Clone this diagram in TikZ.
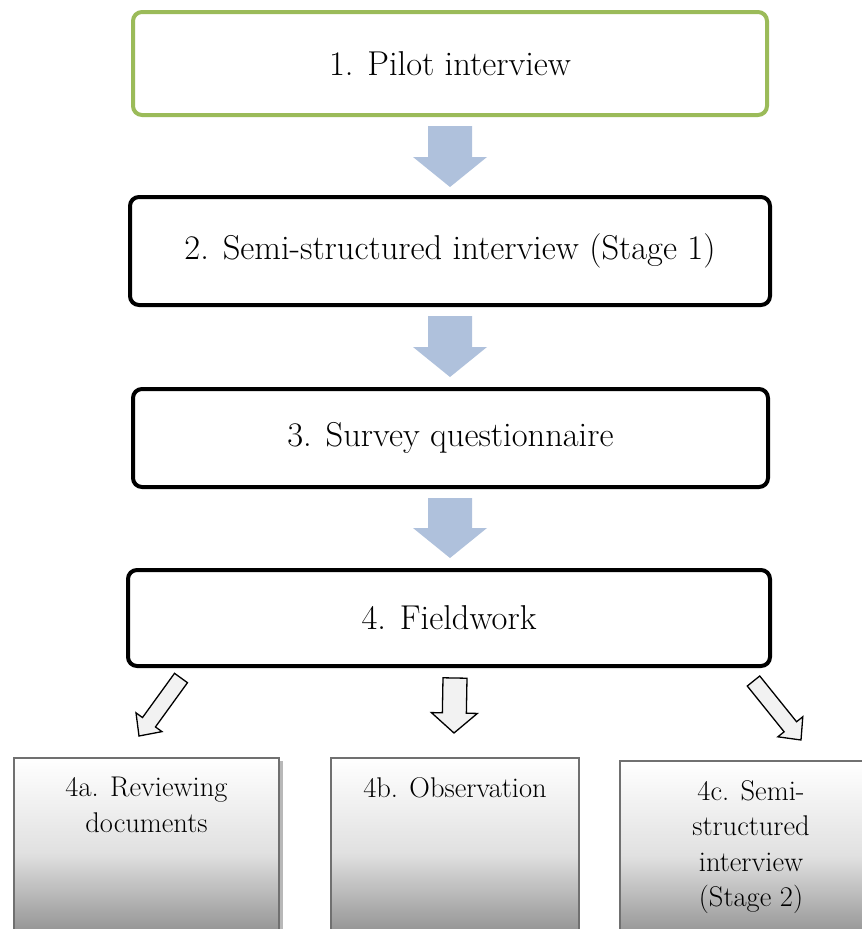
\documentclass[tikz,border=0pt]{standalone}
\usetikzlibrary{calc}

\definecolor{stepgreen}{HTML}{9BBB59}
\definecolor{flowblue}{HTML}{AFC1DC}
\definecolor{subedge}{HTML}{707070}
\definecolor{subshadow}{HTML}{B8B8B8}

\tikzset{
  x=1pt, y=-1pt,
  mainbox/.style={draw=black, line width=4pt, rounded corners=9pt, fill=white,
    inner sep=0pt, font=\fontsize{34.5}{40}\selectfont},
  firstbox/.style={mainbox, draw=stepgreen},
  subbox/.style={draw=subedge, line width=2pt, inner sep=0pt,
    top color=white, bottom color=black!48, middle color=black!12},
  subtext/.style={anchor=north, align=center, inner sep=0pt,
    font=\fontsize{28.5}{35.5}\selectfont},
  flowarrow/.style={fill=flowblue, draw=none},
  subarrow/.style={fill=black!5, draw=black, line width=1.3pt, line join=miter},
}

% block arrow: style, tail, tip, half shaft width, half head width, head length
\newcommand\blockarrow[6]{%
  \coordinate (hb) at ($(#3)!#6!(#2)$);
  \path[#1] ($(#2)!#4!90:(#3)$) -- ($(hb)!#4!90:(#3)$) -- ($(hb)!#5!90:(#3)$)
    -- (#3) -- ($(hb)!#5!-90:(#3)$) -- ($(hb)!#4!-90:(#3)$)
    -- ($(#2)!#4!-90:(#3)$) -- cycle;
}

\begin{document}
\begin{tikzpicture}
\useasboundingbox (0,0) rectangle (862,929);
\clip (0,0) rectangle (862,929);

% main sequence
\node[firstbox, minimum width=634pt, minimum height=103pt] (s1) at (450,63.5) {1. Pilot interview};
\node[mainbox, minimum width=640pt, minimum height=108pt] (s2) at (450,251) {2. Semi-structured interview (Stage 1)};
\node[mainbox, minimum width=635pt, minimum height=98pt] (s3) at (450.5,438) {3. Survey questionnaire};
\node[mainbox, minimum width=642pt, minimum height=96pt] (s4) at (449,618) {4. Fieldwork};

% arrow end points between the boxes
\coordinate (t12) at (450,126); \coordinate (h12) at (450,187);
\coordinate (t23) at (450,316); \coordinate (h23) at (450,377);
\coordinate (t34) at (450,498); \coordinate (h34) at (450,558);

\blockarrow{flowarrow}{t12}{h12}{22pt}{37pt}{30pt}
\blockarrow{flowarrow}{t23}{h23}{22pt}{37pt}{30pt}
\blockarrow{flowarrow}{t34}{h34}{22pt}{37pt}{30pt}

% fieldwork branches
\fill[subshadow] (17,761) rectangle (283,940);
\node[subbox, minimum width=265pt, minimum height=190pt, anchor=north west] (f1) at (13,757) {};
\node[subbox, minimum width=248pt, minimum height=190pt, anchor=north west] (f2) at (330,757) {};
\node[subbox, minimum width=250pt, minimum height=190pt, anchor=north west] (f3) at (619,760) {};

\node[subtext] (l1) at ($(f1.north)+(0,20)$) {4a. Reviewing\\documents};
\node[subtext] (l2) at ($(f2.north)+(0,20)$) {4b. Observation};
\node[subtext] (l3) at ($(f3.north)+(6,20)$) {4c. Semi-\\structured\\interview\\(Stage 2)};

\coordinate (ta) at (181,678); \coordinate (ha) at (139,736);
\coordinate (tb) at (455,678); \coordinate (hb2) at (454,733);
\coordinate (tc) at (753.5,681); \coordinate (hc) at (801,740);

\blockarrow{subarrow}{ta}{ha}{8pt}{16pt}{17pt}
\blockarrow{subarrow}{tb}{hb2}{12pt}{23pt}{20pt}
\blockarrow{subarrow}{tc}{hc}{8pt}{16pt}{17pt}
\end{tikzpicture}
\end{document}
